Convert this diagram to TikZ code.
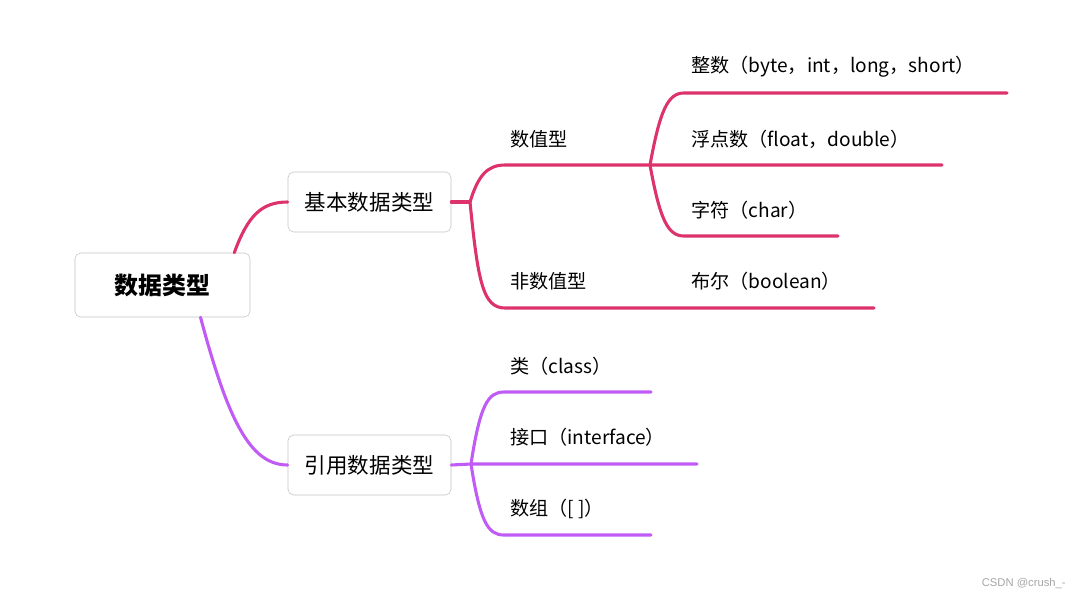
\documentclass[tikz,border=0pt]{standalone}
\usepackage{fontspec}
\setmainfont{Noto Sans CJK SC}
\newfontfamily\wmfont{Liberation Sans}
\usepackage{xcolor}
\usetikzlibrary{positioning}
\definecolor{brpink}{RGB}{221,50,107}
\definecolor{brpurple}{RGB}{192,92,245}
\definecolor{boxgray}{RGB}{196,196,196}
\tikzset{
  rootbox/.style = {draw=boxgray, thin, fill=white, rounded corners=4pt,
                    minimum width=4.375cm, minimum height=1.6cm,
                    font=\fontsize{17pt}{20pt}\selectfont\bfseries},
  subbox/.style  = {draw=boxgray, thin, fill=white, rounded corners=4pt,
                    minimum width=4.075cm, minimum height=1.5cm,
                    font=\fontsize{15.3pt}{18pt}\selectfont},
  leaflbl/.style = {anchor=west, inner sep=0pt,
                    font=\fontsize{13.6pt}{16pt}\selectfont},
  pinkline/.style = {draw=brpink,   line width=2.2pt, line cap=round},
  purpline/.style = {draw=brpurple, line width=2.2pt, line cap=round}
}

\begin{document}
\begin{tikzpicture}[x=0.025cm, y=-0.025cm]
  \useasboundingbox (0,0) rectangle (1080,600);
  % Level 0
  \node[rootbox] (root)  at (162.5,285) {数据类型};
  % Level 1
  \node[subbox]  (basic) at (369.5,202) {基本数据类型};
  \node[subbox]  (ref)   at (369.5,465) {引用数据类型};
  \coordinate (rtop) at ([xshift=-0.4cm]root.north east);
  \coordinate (rbot) at ([xshift=0.95cm]root.south);
  % Junctions
  \coordinate (jb) at (470,202);
  \coordinate (jn) at (650,165);
  \coordinate (jr) at (471,464);
  % Branch lines
  \coordinate (numS)   at (505,165); \coordinate (floatE) at (942,165);
  \coordinate (nonS)   at (505,308); \coordinate (nonE)   at (874,308);
  \coordinate (intS)   at (684,93);  \coordinate (intE)   at (1007,93);
  \coordinate (charS)  at (684,236); \coordinate (charE)  at (838,236);
  \coordinate (classS) at (504,392); \coordinate (classE) at (651,392);
  \coordinate (ifaceE) at (697,464);
  \coordinate (arrS)   at (504,535); \coordinate (arrE)   at (651,535);
  % Labels
  \node[leaflbl] (num)   at (510,139) {数值型};
  \node[leaflbl] (non)   at (510,281) {非数值型};
  \node[leaflbl] (int)   at (691,67)  {整数（byte，int，long，short）};
  \node[leaflbl] (float) at (691,139) {浮点数（float，double）};
  \node[leaflbl] (char)  at (691,210) {字符（char）};
  \node[leaflbl] (bool)  at (691,281) {布尔（boolean）};
  \node[leaflbl] (class) at (510,366) {类（class）};
  \node[leaflbl] (iface) at (510,437) {接口（interface）};
  \node[leaflbl] (arr)   at (510,509) {数组（[ ]）};
  % Edges, pink
  \draw[pinkline] (rtop) .. controls (248,215) and (262,202) .. (basic.west);
  \draw[pinkline] (basic.east) -- (jb);
  \draw[pinkline] (jb) .. controls (478,176) and (487,165) .. (numS) -- (jn) -- (floatE);
  \draw[pinkline] (jb) .. controls (478,282) and (483,308) .. (nonS) -- (nonE);
  \draw[pinkline] (jn) .. controls (660,110) and (668,93) .. (intS) -- (intE);
  \draw[pinkline] (jn) .. controls (660,220) and (668,236) .. (charS) -- (charE);
  % Edges, purple
  \draw[purpline] (rbot) .. controls (228,420) and (250,465) .. (ref.west);
  \draw[purpline] (ref.east) -- (jr) -- (ifaceE);
  \draw[purpline] (jr) .. controls (480,405) and (488,392) .. (classS) -- (classE);
  \draw[purpline] (jr) .. controls (480,522) and (488,535) .. (arrS) -- (arrE);
  % Watermark
  \node[anchor=east, inner sep=0pt, text=gray!70,
        font=\wmfont\fontsize{8pt}{10pt}\selectfont] (wm) at (1066,584) {CSDN @crush\_-};
\end{tikzpicture}
\end{document}
